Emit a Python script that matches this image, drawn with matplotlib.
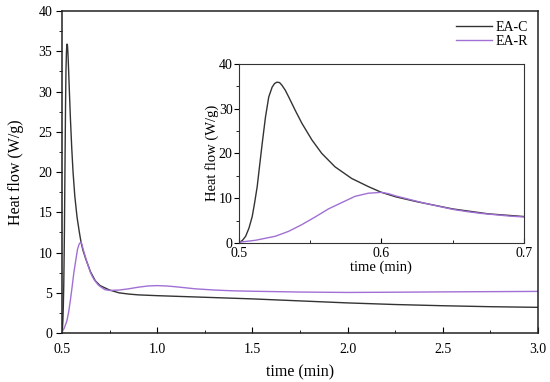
import numpy as np
import matplotlib.pyplot as plt
from matplotlib.ticker import MultipleLocator

plt.rcParams['font.family'] = ['Liberation Serif', 'DejaVu Serif']

# EA-C (black) readings
t_c = [0.500, 0.5025, 0.5047, 0.507, 0.5093, 0.511, 0.5128, 0.5145, 0.5163, 0.5186,
       0.5209, 0.5233, 0.525, 0.5267, 0.5285, 0.5302, 0.5325, 0.5349, 0.5395, 0.5442,
       0.5512, 0.5581, 0.5674, 0.5791, 0.5907, 0.600, 0.610, 0.625, 0.650, 0.675,
       0.700, 0.750, 0.800, 0.850, 0.900, 1.000, 1.250, 1.500, 1.750, 2.000,
       2.250, 2.500, 2.750, 3.000]
hf_c = [0.0, 0.6, 1.5, 3.3, 5.9, 9.0, 12.6, 17.3, 22.2, 28.1,
        32.6, 34.8, 35.6, 35.9, 35.8, 35.2, 34.1, 32.6, 29.6, 26.7,
        23.0, 20.0, 17.0, 14.4, 12.6, 11.3, 10.3, 9.2, 7.6, 6.5,
        5.9, 5.35, 5.0, 4.85, 4.75, 4.65, 4.45, 4.25, 4.0, 3.75,
        3.55, 3.4, 3.28, 3.2]

# EA-R (purple) readings
t_r = [0.500, 0.5116, 0.5256, 0.5349, 0.5442, 0.5535, 0.5628, 0.5721, 0.5814, 0.5907,
       0.600, 0.605, 0.610, 0.620, 0.630, 0.640, 0.650, 0.660, 0.670, 0.680,
       0.690, 0.700, 0.725, 0.750, 0.800, 0.850, 0.900, 0.950, 1.000, 1.050,
       1.100, 1.200, 1.300, 1.400, 1.500, 1.750, 2.000, 2.250, 2.500, 2.750, 3.000]
hf_r = [0.15, 0.6, 1.5, 2.6, 4.1, 5.8, 7.6, 9.0, 10.4, 11.1,
        11.3, 11.0, 10.5, 9.7, 8.9, 8.2, 7.5, 7.0, 6.6, 6.3,
        6.0, 5.8, 5.4, 5.3, 5.35, 5.5, 5.7, 5.85, 5.9, 5.85,
        5.75, 5.5, 5.35, 5.25, 5.2, 5.1, 5.05, 5.08, 5.12, 5.15, 5.18]

c_black = '#333333'
c_purple = '#a070d4'

fig = plt.figure(figsize=(5.5, 3.82), dpi=100)
ax = fig.add_axes([0.1127, 0.128, 0.8655, 0.843])
ax.plot(t_c, hf_c, color=c_black, lw=1.0, label='EA-C')
ax.plot(t_r, hf_r, color=c_purple, lw=1.0, label='EA-R')
ax.set_xlim(0.5, 3.0)
ax.set_ylim(0, 40)
ax.set_xticks([0.5, 1.0, 1.5, 2.0, 2.5, 3.0])
ax.set_xticklabels(['0.5', '1.0', '1.5', '2.0', '2.5', '3.0'])
ax.xaxis.set_minor_locator(MultipleLocator(0.25))
ax.yaxis.set_minor_locator(MultipleLocator(2.5))
ax.tick_params(axis='x', which='both', direction='in', labelsize=10, pad=7)
ax.tick_params(axis='y', which='both', direction='out', labelsize=10, pad=3)
ax.tick_params(which='major', length=4)
ax.tick_params(which='minor', length=2.5)
ax.set_xlabel('time (min)', fontsize=11.5, labelpad=6)
ax.set_ylabel('Heat flow (W/g)', fontsize=11.5, labelpad=10)
for s in ax.spines.values():
    s.set_linewidth(1.1)
    s.set_color('#222222')
ax.legend(loc='upper right', frameon=False, fontsize=10, handlelength=2.6,
          handletextpad=0.3, borderaxespad=0.3, labelspacing=0.1)

ins = fig.add_axes([0.4345, 0.364, 0.518, 0.469])
ins.plot(t_c, hf_c, color=c_black, lw=1.0)
ins.plot(t_r, hf_r, color=c_purple, lw=1.0)
ins.set_xlim(0.5, 0.7)
ins.set_ylim(0, 40)
ins.set_xticks([0.5, 0.6, 0.7])
ins.set_yticks([0, 10, 20, 30, 40])
ins.xaxis.set_minor_locator(MultipleLocator(0.05))
ins.yaxis.set_minor_locator(MultipleLocator(5))
ins.tick_params(axis='x', which='both', direction='in', labelsize=10, pad=3)
ins.tick_params(axis='y', which='both', direction='out', labelsize=10, pad=1)
ins.tick_params(which='major', length=3.5)
ins.tick_params(which='minor', length=2)
ins.set_xlabel('time (min)', fontsize=10.5, labelpad=0.5)
ins.set_ylabel('Heat flow (W/g)', fontsize=10.5, labelpad=0)
for s in ins.spines.values():
    s.set_linewidth(0.8)
    s.set_color('#333333')

fig.savefig('out.png', dpi=100)
